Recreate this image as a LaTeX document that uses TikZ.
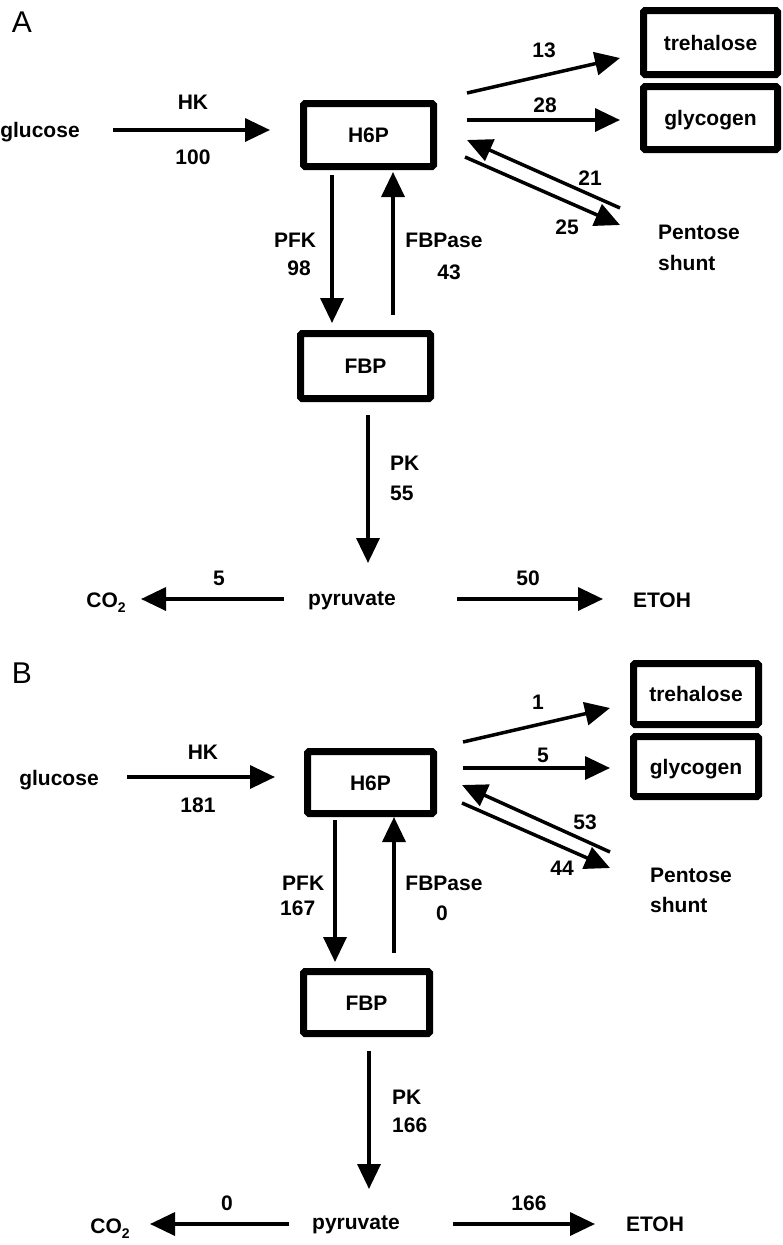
\documentclass[tikz,border=0pt]{standalone}
\usepackage{fontspec}
\setmainfont{Liberation Sans}
\usetikzlibrary{arrows.meta}
\begin{document}
\begin{tikzpicture}[x=1pt,y=-1pt,
  lab/.style={font=\fontsize{21}{21}\selectfont\bfseries, inner sep=0pt, text height=15pt, text depth=0pt},
  panel/.style={font=\fontsize{30}{30}\selectfont, inner sep=0pt, text height=21pt, text depth=0pt},
  box/.style={draw, line width=7pt, rounded corners=1.5pt, inner sep=0pt, font=\fontsize{21}{21}\selectfont\bfseries, text height=15pt, text depth=0pt},
  arr/.style={line width=3.5pt, -{Triangle[length=25pt,width=23pt]}},
  ]
\useasboundingbox[fill=white] (0,0) rectangle (783,1245);

% ===================== Panel A =====================
\node[panel] (pA) at (22,22) {A};
\node[lab] (glcA) at (40,130) {glucose};
\node[box, minimum width=130pt, minimum height=63pt] (h6pA) at (368.5,135) {H6P};
\node[box, minimum width=130pt, minimum height=65pt] (fbpA) at (365.5,366) {FBP};
\node[box, minimum width=134pt, minimum height=64pt] (treA) at (710.5,42.5) {trehalose};
\node[box, minimum width=134pt, minimum height=63pt] (glyA) at (710.5,118) {glycogen};
\node[lab] (pyrA) at (352,598) {pyruvate};
\node[lab] (co2A) at (106,600) {CO\raisebox{-5pt}{\fontsize{14}{14}\selectfont 2}};
\node[lab] (etohA) at (662,600) {ETOH};
\node[lab, anchor=west] (penA) at (658,232) {Pentose};
\node[lab, anchor=west] (shuA) at (658,263) {shunt};

\coordinate (hkA1) at (113,130);  \coordinate (hkA2) at (270,130);
\coordinate (pfkA1) at (332,175); \coordinate (pfkA2) at (332,323);
\coordinate (fbpaseA1) at (393,315); \coordinate (fbpaseA2) at (393,172);
\coordinate (pkA1) at (368,415);  \coordinate (pkA2) at (368,563);
\coordinate (co2A1) at (284,599); \coordinate (co2A2) at (141,599);
\coordinate (etA1) at (457,599);  \coordinate (etA2) at (603,599);
\coordinate (trA1) at (467,93);   \coordinate (trA2) at (620,58);
\coordinate (glA1) at (467,120);  \coordinate (glA2) at (620,120);
\coordinate (pbA1) at (620,208);  \coordinate (pbA2) at (467,140);
\coordinate (pfA1) at (465,157);  \coordinate (pfA2) at (620,225);

\draw[arr] (hkA1) -- (hkA2);
\draw[arr] (pfkA1) -- (pfkA2);
\draw[arr] (fbpaseA1) -- (fbpaseA2);
\draw[arr] (pkA1) -- (pkA2);
\draw[arr] (co2A1) -- (co2A2);
\draw[arr] (etA1) -- (etA2);
\draw[arr] (trA1) -- (trA2);
\draw[arr] (glA1) -- (glA2);
\draw[arr] (pbA1) -- (pbA2);
\draw[arr] (pfA1) -- (pfA2);

\node[lab] (lhkA) at (193,102) {HK};
\node[lab] (vhkA) at (193,157) {100};
\node[lab] (lpfkA) at (295,240) {PFK};
\node[lab] (vpfkA) at (299,268) {98};
\node[lab] (lfbA) at (444,240) {FBPase};
\node[lab] (vfbA) at (449,272) {43};
\node[lab, anchor=west] (lpkA) at (390,463) {PK};
\node[lab, anchor=west] (vpkA) at (390,493) {55};
\node[lab] (vco2A) at (219,578) {5};
\node[lab] (vetA) at (528,578) {50};
\node[lab] (vtrA) at (544,50) {13};
\node[lab] (vglA) at (545,105) {28};
\node[lab] (vpbA) at (590,178) {21};
\node[lab] (vpfA) at (567,227) {25};

% ===================== Panel B =====================
\node[panel] (pB) at (22,673) {B};
\node[lab] (glcB) at (59,778) {glucose};
\node[box, minimum width=126pt, minimum height=62pt] (h6pB) at (370.5,782.5) {H6P};
\node[box, minimum width=126pt, minimum height=62pt] (fbpB) at (366.5,1002.5) {FBP};
\node[box, minimum width=125pt, minimum height=61pt] (treB) at (696,694) {trehalose};
\node[box, minimum width=125pt, minimum height=60pt] (glyB) at (696,766.5) {glycogen};
\node[lab] (pyrB) at (356,1222) {pyruvate};
\node[lab] (co2B) at (110,1226) {CO\raisebox{-5pt}{\fontsize{14}{14}\selectfont 2}};
\node[lab] (etohB) at (655,1224) {ETOH};
\node[lab, anchor=west] (penB) at (650,875) {Pentose};
\node[lab, anchor=west] (shuB) at (650,905) {shunt};

\coordinate (hkB1) at (127,777);  \coordinate (hkB2) at (275,777);
\coordinate (pfkB1) at (335,820); \coordinate (pfkB2) at (335,962);
\coordinate (fbpaseB1) at (394,953); \coordinate (fbpaseB2) at (394,817);
\coordinate (pkB1) at (369,1051); \coordinate (pkB2) at (369,1189);
\coordinate (co2B1) at (289,1224); \coordinate (co2B2) at (150,1224);
\coordinate (etB1) at (453,1224); \coordinate (etB2) at (595,1224);
\coordinate (trB1) at (463,742);  \coordinate (trB2) at (610,708);
\coordinate (glB1) at (463,768);  \coordinate (glB2) at (610,768);
\coordinate (pbB1) at (610,852);  \coordinate (pbB2) at (462,785);
\coordinate (pfB1) at (462,803);  \coordinate (pfB2) at (610,868);

\draw[arr] (hkB1) -- (hkB2);
\draw[arr] (pfkB1) -- (pfkB2);
\draw[arr] (fbpaseB1) -- (fbpaseB2);
\draw[arr] (pkB1) -- (pkB2);
\draw[arr] (co2B1) -- (co2B2);
\draw[arr] (etB1) -- (etB2);
\draw[arr] (trB1) -- (trB2);
\draw[arr] (glB1) -- (glB2);
\draw[arr] (pbB1) -- (pbB2);
\draw[arr] (pfB1) -- (pfB2);

\node[lab] (lhkB) at (203,752) {HK};
\node[lab] (vhkB) at (198,805) {181};
\node[lab, anchor=west] (lpfkB) at (282,883) {PFK};
\node[lab, anchor=west] (vpfkB) at (280,908) {167};
\node[lab] (lfbB) at (444,883) {FBPase};
\node[lab] (vfbB) at (442,913) {0};
\node[lab, anchor=west] (lpkB) at (392,1097) {PK};
\node[lab, anchor=west] (vpkB) at (392,1125) {166};
\node[lab] (vco2B) at (227,1203) {0};
\node[lab] (vetB) at (529,1203) {166};
\node[lab] (vtrB) at (538,702) {1};
\node[lab] (vglB) at (543,755) {5};
\node[lab] (vpbB) at (585,822) {53};
\node[lab] (vpfB) at (562,868) {44};
\end{tikzpicture}
\end{document}
